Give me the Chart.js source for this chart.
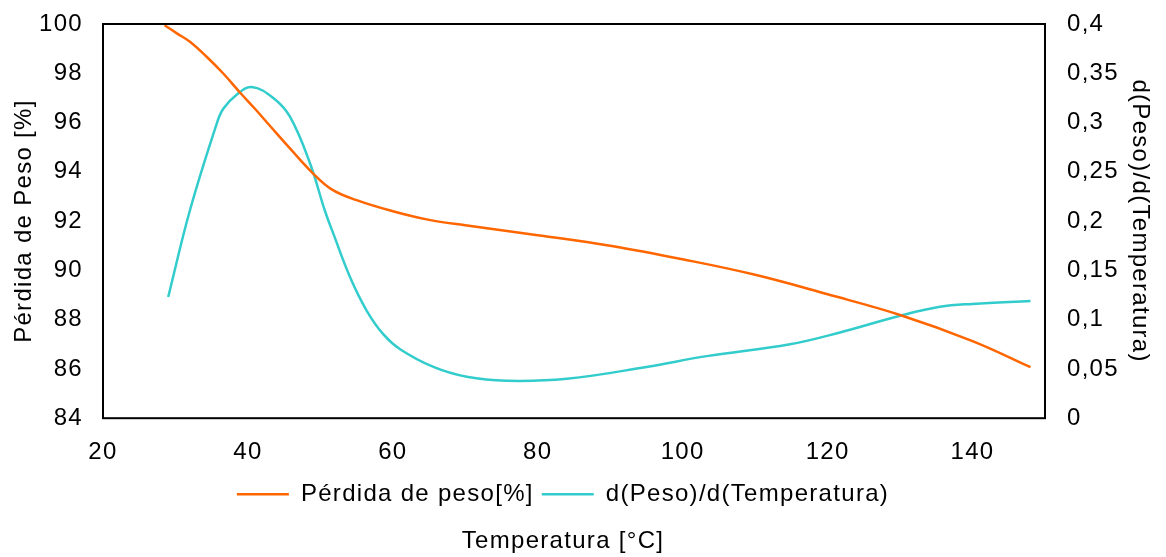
<!DOCTYPE html>
<html>
<head>
<meta charset="utf-8">
<script src="https://cdn.jsdelivr.net/npm/chart.js@4.4.1/dist/chart.umd.min.js"></script>
<style>
  body { margin: 0; background: #fff; }
  #wrap { width: 1166px; height: 557px; }
</style>
</head>
<body>
<div id="wrap"><canvas id="chart"></canvas></div>
<script>
// Pérdida de peso [%] vs temperatura
var pesoTemps = [28.5, 30.2, 32, 34.3, 36.6, 38.9, 41, 43, 45.8, 48.8, 51.5, 55, 60, 65, 70, 80, 90, 100, 110, 120, 130, 140, 148];
var pesoValues = [99.95, 99.62, 99.28, 98.67, 97.99, 97.22, 96.55, 95.88, 94.95, 93.99, 93.3, 92.85, 92.4, 92.05, 91.83, 91.43, 91.0, 90.45, 89.82, 89.03, 88.19, 87.13, 86.07];

// d(Peso)/d(Temperatura)
var derivTemps = [29, 32, 35.7, 36.6, 38.4, 40.5, 43.5, 45.8, 48.6, 50.6, 51.8, 54.1, 56.4, 58.7, 61, 65.6, 70.2, 75.7, 84, 95, 103.3, 114.8, 121.7, 130, 135.5, 140, 148];
var derivValues = [0.123, 0.211, 0.299, 0.314, 0.328, 0.336, 0.325, 0.306, 0.258, 0.211, 0.187, 0.143, 0.109, 0.085, 0.070, 0.052, 0.042, 0.038, 0.040, 0.052, 0.063, 0.075, 0.087, 0.104, 0.113, 0.116, 0.119];

var xTicks = [20, 40, 60, 80, 100, 120, 140];

function toPoints(xs, ys) {
  var pts = [];
  for (var i = 0; i < xs.length; i++) {
    pts.push({ x: xs[i], y: ys[i] });
  }
  return pts;
}

var font = { family: "'Liberation Sans', Arial, sans-serif", size: 24 };
Chart.defaults.color = "#000";

// the reference text runs a bit wide, so space the letters out a little
var spacingPlugin = {
  id: "spacing",
  beforeLayout: function (chart) { chart.ctx.letterSpacing = "1.3px"; },
  beforeDraw: function (chart) { chart.ctx.letterSpacing = "1.3px"; }
};

// draw the black box round the plot area
var framePlugin = {
  id: "frame",
  afterDatasetsDraw: function (chart) {
    var a = chart.chartArea;
    var ctx = chart.ctx;
    ctx.save();
    ctx.strokeStyle = "#000";
    ctx.lineWidth = 2;
    ctx.strokeRect(a.left, a.top, a.right - a.left, a.bottom - a.top);
    ctx.restore();
  }
};

var ctx = document.getElementById("chart").getContext("2d");
var chart = new Chart(ctx, {
  type: "line",
  data: {
    datasets: [
      {
        label: "Pérdida de peso[%]",
        data: toPoints(pesoTemps, pesoValues),
        borderColor: "#FF6600",
        backgroundColor: "#FF6600",
        borderWidth: 2.5,
        pointRadius: 0,
        tension: 0.4,
        yAxisID: "y"
      },
      {
        label: "d(Peso)/d(Temperatura)",
        data: toPoints(derivTemps, derivValues),
        borderColor: "#33CCCC",
        backgroundColor: "#33CCCC",
        borderWidth: 2.5,
        pointRadius: 0,
        tension: 0.4,
        yAxisID: "y1"
      }
    ]
  },
  options: {
    responsive: true,
    maintainAspectRatio: false,
    animation: false,
    layout: { padding: { top: 24, left: 0, right: 40, bottom: 0 } },
    scales: {
      x: {
        type: "linear",
        min: 20,
        max: 150,
        afterBuildTicks: function (scale) {
          scale.ticks = xTicks.map(function (v) { return { value: v }; });
        },
        grid: { display: false, drawTicks: false },
        border: { display: false },
        ticks: { font: font, padding: 20, maxRotation: 0 },
        afterFit: function (scale) { scale.height = 56; }
      },
      y: {
        position: "left",
        min: 84,
        max: 100,
        ticks: { stepSize: 2, font: font, padding: 20 },
        grid: { display: false, drawTicks: false },
        border: { display: false },
        title: { display: true, text: "Pérdida de Peso [%]", font: font, padding: { top: 10, bottom: 0 } },
        afterFit: function (scale) { scale.width = 103; scale.paddingTop = 0; }
      },
      y1: {
        position: "right",
        min: 0,
        max: 0.4,
        ticks: {
          stepSize: 0.05,
          font: font,
          padding: 22,
          callback: function (v) { return String(+v.toFixed(2)).replace(".", ","); }
        },
        grid: { display: false, drawTicks: false },
        border: { display: false },
        title: { display: true, text: "d(Peso)/d(Temperatura)", font: font, padding: { top: -28, bottom: 0 } },
        afterFit: function (scale) { scale.width = 81; scale.paddingTop = 0; }
      }
    },
    plugins: {
      legend: {
        position: "bottom",
        labels: {
          font: font,
          usePointStyle: true,
          pointStyle: "line",
          pointStyleWidth: 52,
          padding: 8
        }
      },
      title: {
        display: true,
        position: "bottom",
        text: "Temperatura [°C]",
        font: { family: font.family, size: 24, weight: "normal" },
        padding: { top: 11, bottom: 1 }
      },
      tooltip: { enabled: false }
    }
  },
  plugins: [spacingPlugin, framePlugin]
});
</script>
</body>
</html>
